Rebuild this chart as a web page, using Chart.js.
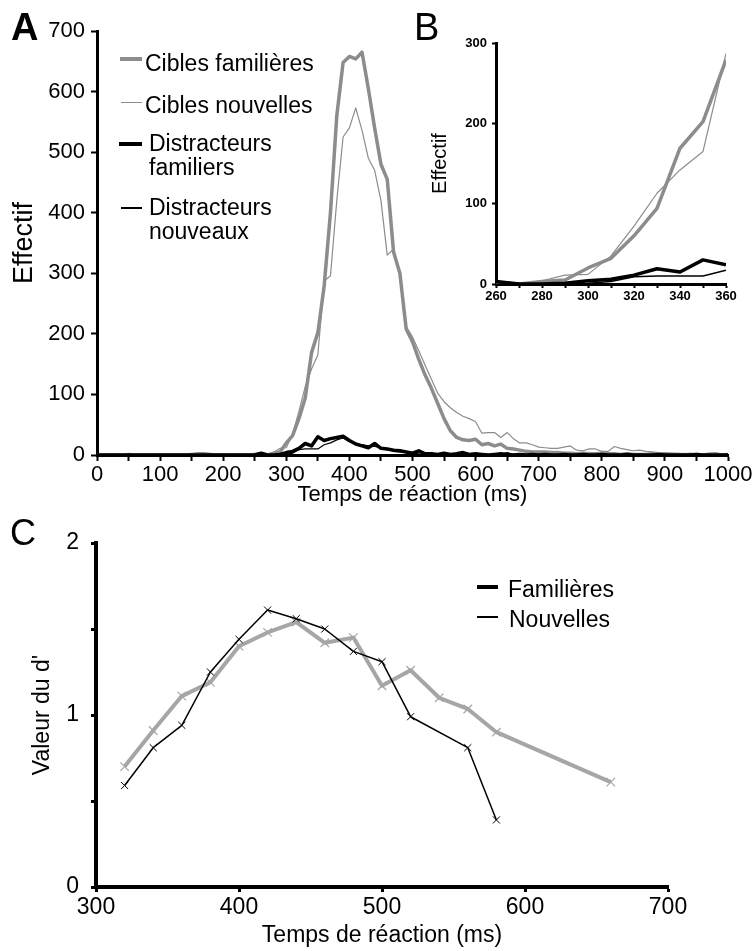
<!DOCTYPE html>
<html lang="fr">
<head>
<meta charset="utf-8">
<title>Temps de réaction – effectifs et d'</title>
<script src="https://cdn.jsdelivr.net/npm/chart.js@4.4.1/dist/chart.umd.min.js"></script>
<style>
  html, body { margin:0; padding:0; background:#fff; }
  body { width:755px; height:951px; position:relative; overflow:hidden;
         font-family: Arial, "Liberation Sans", sans-serif; color:#000; }
  canvas { position:absolute; }
  .letter { position:absolute; line-height:1; }
  .lg-line { position:absolute; }
  .lg-text { position:absolute; font-size:23px; line-height:24px; white-space:nowrap; }
</style>
</head>
<body>
<canvas id="chartA" width="755" height="512" style="left:0;top:0"></canvas>
<canvas id="chartB" width="335" height="320" style="left:420px;top:0"></canvas>
<canvas id="chartC" width="755" height="451" style="left:0;top:500px"></canvas>

<div class="letter" style="left:11px;top:8px;font-size:38px;font-weight:bold">A</div>
<div class="letter" style="left:414px;top:8px;font-size:38px">B</div>
<div class="letter" style="left:10px;top:515px;font-size:36px">C</div>

<!-- legend A -->
<div class="lg-line" style="left:120px;top:57px;width:22px;height:4px;background:#8c8c8c"></div>
<div class="lg-text" style="left:145px;top:51px">Cibles familières</div>
<div class="lg-line" style="left:121px;top:102px;width:21px;height:1px;background:#8c8c8c"></div>
<div class="lg-text" style="left:145px;top:93px">Cibles nouvelles</div>
<div class="lg-line" style="left:119px;top:142px;width:23px;height:4px;background:#000"></div>
<div class="lg-text" style="left:149px;top:131px">Distracteurs<br>familiers</div>
<div class="lg-line" style="left:121px;top:207px;width:21px;height:1.5px;background:#000"></div>
<div class="lg-text" style="left:149px;top:195px">Distracteurs<br>nouveaux</div>

<!-- legend C -->
<div class="lg-line" style="left:477px;top:585px;width:21px;height:4px;background:#000"></div>
<div class="lg-text" style="left:508px;top:577px">Familières</div>
<div class="lg-line" style="left:477px;top:616px;width:21px;height:1.5px;background:#000"></div>
<div class="lg-text" style="left:509px;top:607px">Nouvelles</div>

<script>
// ── Data: histogram A / B (bins of 10 ms) ─────
const rtBins = [
  0,10,20,30,40,50,60,70,80,90,
  100,110,120,130,140,150,160,170,180,190,
  200,210,220,230,240,250,260,270,280,290,
  300,310,320,330,340,350,360,370,380,390,
  400,410,420,430,440,450,460,470,480,490,
  500,510,520,530,540,550,560,570,580,590,
  600,610,620,630,640,650,660,670,680,690,
  700,710,720,730,740,750,760,770,780,790,
  800,810,820,830,840,850,860,870,880,890,
  900,910,920,930,940,950,960,970,980,990,
  1000
];
const ciblesFam = [
  0,0,0,0,0,1,0,0,0,0,
  0,0,0,0,0,1,2,2,1,0,
  0,0,0,0,0,1,2,0,3,5,
  20,32,60,94,169,202,279,400,560,648,
  658,654,665,605,540,480,455,335,300,208,
  187,158,132,110,85,60,40,29,25,24,
  26,17,19,15,18,11,10,8,6,5,
  5,5,4,4,3,3,2,3,2,2,
  3,2,2,1,2,1,1,1,2,1,
  1,1,0,1,0,1,0,1,0,0,
  1
];
const ciblesNew = [
  0,0,0,0,0,2,0,0,0,0,
  0,0,0,0,0,0,2,1,0,0,
  0,0,0,0,0,0,2,0,4,11,
  12,35,72,113,142,165,287,296,420,525,
  540,573,536,490,470,420,330,340,298,212,
  195,172,148,125,102,88,78,70,64,60,
  55,36,37,37,29,37,27,20,20,17,
  13,12,11,11,13,15,8,7,10,10,
  6,6,14,11,9,7,8,6,5,4,
  4,3,3,2,3,2,2,3,4,2,
  2
];
const distFam = [
  0,0,0,0,0,0,0,0,0,0,
  0,0,0,0,0,0,0,0,0,0,
  0,0,0,0,0,0,3,0,0,1,
  4,6,11,19,15,30,24,27,29,31,
  24,18,15,12,19,11,10,8,7,5,
  3,7,2,2,1,3,1,2,4,1,
  2,1,0,1,2,1,0,1,0,1,
  0,1,0,0,1,0,0,1,0,0,
  1,0,0,0,1,0,0,0,0,1,
  0,0,0,0,0,1,0,0,0,0,
  0
];
const distNew = [
  0,0,0,0,0,0,0,0,0,0,
  0,0,0,0,0,0,0,0,0,0,
  0,0,0,0,0,0,2,0,0,0,
  1,3,9,10,10,10,17,20,25,28,
  22,20,17,15,14,12,9,6,5,4,
  3,2,1,1,2,1,2,1,3,1,
  1,1,0,1,1,4,1,2,1,0,
  1,0,1,0,0,1,0,0,0,1,
  0,0,1,0,0,0,1,0,0,0,
  0,1,0,0,0,0,0,1,0,0,
  0
];

// ── Data: d' (panel C) ─────────────────────────
const dFamRT = [320,340,360,380,400,420,440,460,480,500,520,540,560,580,660];
const dFam   = [0.70,0.91,1.11,1.19,1.40,1.48,1.54,1.42,1.45,1.17,1.26,1.10,1.035,0.90,0.61];
const dNewRT = [320,340,360,380,400,420,440,460,480,500,520,560,580];
const dNew   = [0.59,0.81,0.94,1.25,1.44,1.61,1.56,1.50,1.37,1.31,0.99,0.81,0.39];

// ── Common ─────────────────────────────────────
Chart.defaults.font.family = 'Arial, "Liberation Sans", sans-serif';
Chart.defaults.color = '#000';

const GREY = '#8c8c8c';
const GREY_C = '#a6a6a6';

const pairs = (xs, ys) => xs.map((x, i) => ({ x, y: ys[i] }));
const between = (xs, ys, lo, hi) => pairs(xs, ys).filter(p => p.x >= lo && p.x <= hi);

function axis(o) {
  return {
    type: 'linear', min: o.min, max: o.max,
    afterFit: s => { if (o.size) { if (s.isHorizontal()) s.height = o.size; else s.width = o.size; } },
    ticks: { stepSize: o.step, autoSkip: false, maxRotation: 0, padding: o.pad, font: o.font,
             callback: o.label },
    grid: { drawOnChartArea: false, tickLength: o.tick, tickWidth: o.tickW || 2, tickColor: '#000' },
    border: { color: '#000', width: o.border },
    title: o.title ? { display: true, text: o.title, font: o.titleFont, padding: o.titlePad } : { display: false }
  };
}

function baseOptions(padding, x, y) {
  return {
    responsive: false,
    animation: false,
    layout: { padding },
    elements: { point: { radius: 0 }, line: { tension: 0, borderJoinStyle: 'round' } },
    plugins: { legend: { display: false }, tooltip: { enabled: false } },
    scales: { x, y }
  };
}

// ── Panel A ────────────────────────────────────
new Chart(document.getElementById('chartA'), {
  type: 'line',
  data: { datasets: [
    { label: 'Distracteurs familiers', data: pairs(rtBins, distFam),  borderColor: '#000', borderWidth: 3.5 },
    { label: 'Distracteurs nouveaux',  data: pairs(rtBins, distNew),  borderColor: '#000', borderWidth: 1.2 },
    { label: 'Cibles familières',      data: pairs(rtBins, ciblesFam), borderColor: GREY,  borderWidth: 3.5 },
    { label: 'Cibles nouvelles',       data: pairs(rtBins, ciblesNew), borderColor: GREY,  borderWidth: 1.2 },
  ]},
  options: baseOptions({ left: 0, right: 27, top: 31, bottom: 0 },
    axis({ min: 0, max: 1000, step: 50, size: 57, pad: 1, tick: 6, border: 3, font: { size: 22 },
           label: v => v % 100 === 0 ? v : '',
           title: 'Temps de réaction (ms)', titleFont: { size: 22 }, titlePad: { top: 0, bottom: 4 } }),
    axis({ min: 0, max: 700, step: 100, size: 97, pad: 6, tick: 6, border: 3, font: { size: 22 },
           label: v => v,
           title: 'Effectif', titleFont: { size: 27 }, titlePad: { top: 8 } }))
});

// ── Panel B (zoom 260–360 ms) ──────────────────
new Chart(document.getElementById('chartB'), {
  type: 'line',
  data: { datasets: [
    { data: between(rtBins, distFam, 260, 360),   borderColor: '#000', borderWidth: 3.5 },
    { data: between(rtBins, distNew, 260, 360),   borderColor: '#000', borderWidth: 1.5 },
    { data: between(rtBins, ciblesFam, 260, 360), borderColor: GREY,  borderWidth: 3.5 },
    { data: between(rtBins, ciblesNew, 260, 360), borderColor: GREY,  borderWidth: 1.2 },
  ]},
  options: baseOptions({ left: 0, right: 29, top: 43, bottom: 0 },
    axis({ min: 260, max: 360, step: 10, size: 36, pad: 1, tick: 4, border: 3,
           font: { size: 13, weight: 'bold' }, label: v => v % 20 === 0 ? v : '' }),
    axis({ min: 0, max: 300, step: 100, size: 76, pad: 5, tick: 4, border: 3,
           font: { size: 13, weight: 'bold' }, label: v => v,
           title: 'Effectif', titleFont: { size: 20 }, titlePad: { top: 8 } }))
});

// ── Panel C: d' ────────────────────────────────
new Chart(document.getElementById('chartC'), {
  type: 'line',
  data: { datasets: [
    { label: 'Nouvelles',  data: pairs(dNewRT, dNew), borderColor: '#000', borderWidth: 1.5,
      pointStyle: 'crossRot', pointRadius: 5, pointBorderWidth: 1, pointBorderColor: '#000' },
    { label: 'Familières', data: pairs(dFamRT, dFam), borderColor: GREY_C, borderWidth: 4,
      pointStyle: 'crossRot', pointRadius: 6, pointBorderWidth: 1.2, pointBorderColor: GREY_C },
  ]},
  options: baseOptions({ left: 0, right: 87, top: 43, bottom: 0 },
    axis({ min: 300, max: 700, step: 100, size: 64, pad: 2, tick: 5, tickW: 3, border: 4, font: { size: 23 },
           label: v => v,
           title: 'Temps de réaction (ms)', titleFont: { size: 23 }, titlePad: { top: 0, bottom: 2 } }),
    axis({ min: 0, max: 2, step: 0.5, size: 96, pad: 12, tick: 5, tickW: 3, border: 4, font: { size: 23 },
           label: v => Number.isInteger(v) ? v : '',
           title: "Valeur du d'", titleFont: { size: 23 }, titlePad: { top: 29 } }))
});
</script>
</body>
</html>
